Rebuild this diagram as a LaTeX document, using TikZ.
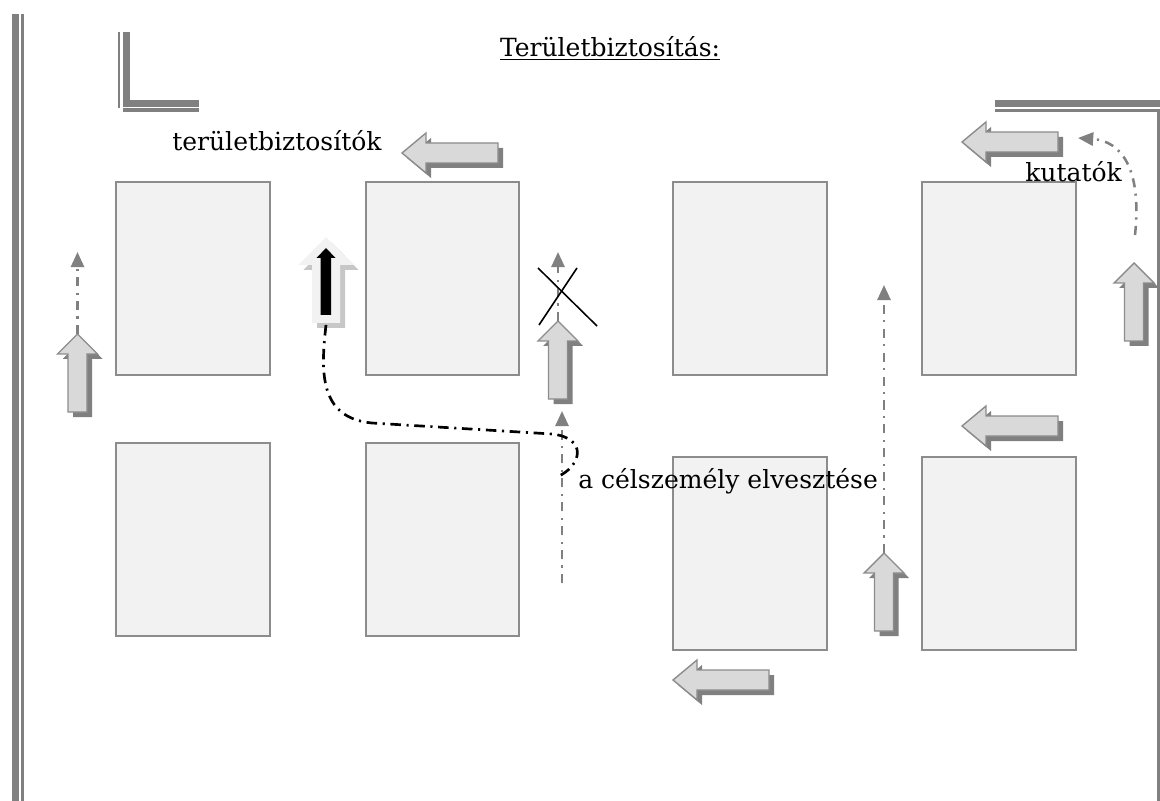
\documentclass[tikz,border=0pt]{standalone}
\usepackage{fontspec}
\setmainfont{DejaVu Serif}
\usetikzlibrary{arrows.meta}

\definecolor{roomfill}{HTML}{F2F2F2}
\definecolor{roomline}{HTML}{8C8C8C}
\definecolor{wallgray}{HTML}{808080}
\definecolor{arrowfill}{HTML}{D9D9D9}
\definecolor{arrowline}{HTML}{8C8C8C}
\definecolor{shadowgray}{HTML}{808080}
\definecolor{trackgray}{HTML}{808080}

\newcommand{\labelfont}{\fontsize{17.8}{21}\selectfont}

\tikzset{
	room/.style={fill=roomfill,draw=roomline,line width=1.4pt},
	wall/.style={fill=wallgray},
	track/.style={draw=trackgray,line width=1.8pt,dash pattern=on 6.5pt off 4.5pt on 1.5pt off 4.5pt,-{Triangle[length=0.38cm,width=0.33cm]}},
	lost/.style={black,line width=1.9pt,dash pattern=on 7.5pt off 4pt on 1.5pt off 4pt},
	label/.style={font=\labelfont,inner sep=0pt},
	uparrow/.pic={
		\fill[shadowgray,shift={(5,5)}] (0,0) -- (20,20) -- (9.5,20) -- (9.5,78) -- (-9.5,78) -- (-9.5,20) -- (-20,20) -- cycle;
		\filldraw[fill=arrowfill,draw=arrowline,line width=1pt] (0,0) -- (20,20) -- (9.5,20) -- (9.5,78) -- (-9.5,78) -- (-9.5,20) -- (-20,20) -- cycle;
		\coordinate (-tip) at (0,0);
	},
	leftarrow/.pic={
		\fill[shadowgray,shift={(5,5)}] (0,0) -- (24,-20) -- (24,-10) -- (96,-10) -- (96,10) -- (24,10) -- (24,20) -- cycle;
		\filldraw[fill=arrowfill,draw=arrowline,line width=1pt] (0,0) -- (24,-20) -- (24,-10) -- (96,-10) -- (96,10) -- (24,10) -- (24,20) -- cycle;
		\coordinate (-tip) at (0,0);
	}
}

\begin{document}
\begin{tikzpicture}[x=0.025cm,y=-0.025cm]
	\useasboundingbox (0,0) rectangle (1160,801);

	% walls
	\fill[wall] (12,14) rectangle (19,801);
	\fill[wall] (21,14) rectangle (24,801);
	\fill[wall] (118,32) rectangle (120,108);
	\fill[wall] (122.7,32) rectangle (130,106.7);
	\fill[wall] (122.7,100) rectangle (199,106.7);
	\fill[wall] (122.7,108.5) rectangle (199,112);
	\fill[wall] (995,100) rectangle (1160,106.7);
	\fill[wall] (995,109) rectangle (1157,111.7);
	\fill[wall] (1156.5,109) rectangle (1160,801);

	% rooms
	\draw[room] (116,182) rectangle (270,375);
	\draw[room] (366,182) rectangle (519,375);
	\draw[room] (673,182) rectangle (827,375);
	\draw[room] (922,182) rectangle (1076,375);
	\draw[room] (116,443) rectangle (270,636);
	\draw[room] (366,443) rectangle (519,636);
	\draw[room] (673,457) rectangle (827,650);
	\draw[room] (922,457) rectangle (1076,650);

	% guards and searchers
	\pic (u1) at (77.5,334) {uparrow};
	\pic (u2) at (558,321) {uparrow};
	\pic (u3) at (1134,263) {uparrow};
	\pic (u4) at (884,553) {uparrow};
	\pic (a1) at (402,153) {leftarrow};
	\pic (a2) at (962,142) {leftarrow};
	\pic (a3) at (962,426) {leftarrow};
	\pic (a4) at (673,680) {leftarrow};

	% target
	\fill[black!22] (331,242) -- (358.5,270) -- (345,270) -- (345,328) -- (317,328) -- (317,270) -- (303.5,270) -- cycle;
	\fill[roomfill] (326,237) -- (353.5,265) -- (340,265) -- (340,323) -- (312,323) -- (312,265) -- (298.5,265) -- cycle;
	\fill[black] (326,248) -- (335.5,258) -- (331,258) -- (331,315) -- (320.5,315) -- (320.5,258) -- (316.5,258) -- cycle;
	\coordinate (lead) at (326,325);

	\coordinate (t1) at (77.5,252);
	\coordinate (t2) at (558,252);
	\coordinate (s3) at (562,583);
	\coordinate (t3) at (562,411);
	\coordinate (t4) at (884,285);
	\coordinate (s5) at (1135,235);
	\coordinate (t5) at (1078,138);
	\coordinate (gone) at (557,477);

	\draw[track] (u1-tip) -- (t1);
	\draw[track] (u2-tip) -- (t2);
	\draw[track] (s3) -- (t3);
	\draw[track] (u4-tip) -- (t4);
	\draw[track] (s5) .. controls (1142,170) and (1122,141) .. (t5);

	\draw[lost] (lead) .. controls (321,370) and (318,418) .. (372,423) -- (552,434) .. controls (588,438) and (582,466) .. (gone);

	% crossed out
	\draw[black,line width=1.1pt] (538,268) -- (597,326);
	\draw[black,line width=1.1pt] (577,268) -- (539,325);

	% texts
	\node[label,anchor=base] (title) at (610,57) {\underline{Területbiztosítás:}};
	\node[label,anchor=base west] (guards) at (172,151) {területbiztosítók};
	\node[label,anchor=base west] (searchers) at (1025,182) {kutatók};
	\node[label,anchor=base west] (loss) at (578,488) {a célszemély elvesztése};
\end{tikzpicture}
\end{document}
